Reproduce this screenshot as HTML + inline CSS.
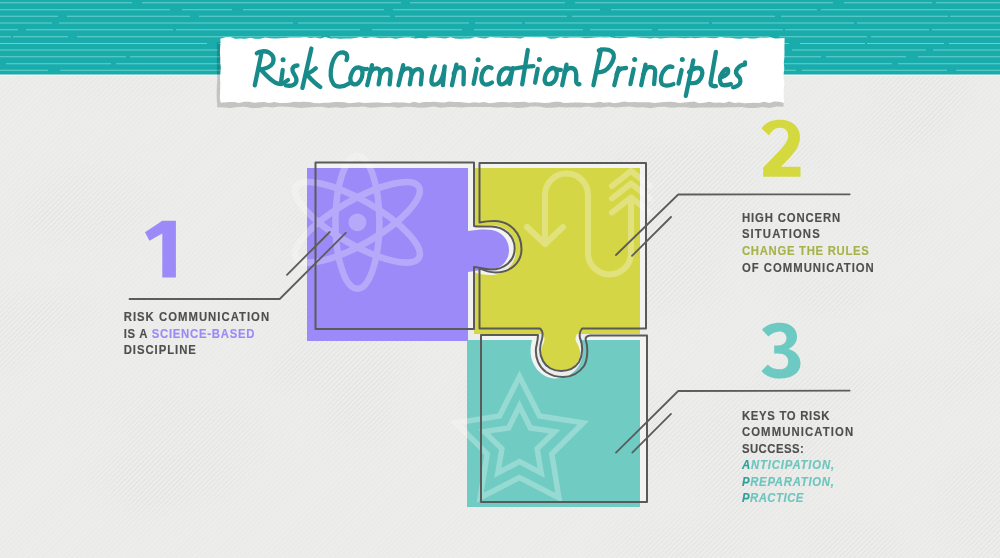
<!DOCTYPE html>
<html><head><meta charset="utf-8">
<style>
html,body{margin:0;padding:0;width:1000px;height:558px;overflow:hidden;background:#ededec;}
svg{display:block;}
text{font-family:"Liberation Sans",sans-serif;}
</style></head>
<body>
<svg width="1000" height="558" viewBox="0 0 1000 558">
<defs>
<pattern id="hatch" width="3.5" height="3.5" patternUnits="userSpaceOnUse" patternTransform="rotate(-45)">
<rect width="3.5" height="1" fill="#d9d9d8"/>
</pattern>
<filter id="blur" x="-20%" y="-20%" width="140%" height="140%"><feGaussianBlur stdDeviation="12"/></filter>
<mask id="patches" maskUnits="userSpaceOnUse" x="0" y="0" width="1000" height="558">
<rect width="1000" height="558" fill="#fff" fill-opacity="0.35"/>
<g filter="url(#blur)">
<ellipse cx="623" cy="433" rx="69" ry="43" fill="#fff" fill-opacity="0.84"/>
<ellipse cx="922" cy="89" rx="51" ry="43" fill="#fff" fill-opacity="0.79"/>
<ellipse cx="901" cy="130" rx="51" ry="22" fill="#fff" fill-opacity="0.73"/>
<ellipse cx="574" cy="81" rx="37" ry="23" fill="#fff" fill-opacity="0.95"/>
<ellipse cx="766" cy="152" rx="69" ry="19" fill="#fff" fill-opacity="0.77"/>
<ellipse cx="127" cy="76" rx="73" ry="21" fill="#fff" fill-opacity="0.53"/>
<ellipse cx="982" cy="496" rx="41" ry="44" fill="#fff" fill-opacity="0.72"/>
<ellipse cx="678" cy="174" rx="77" ry="36" fill="#fff" fill-opacity="0.98"/>
<ellipse cx="894" cy="219" rx="45" ry="20" fill="#fff" fill-opacity="0.49"/>
<ellipse cx="65" cy="221" rx="58" ry="15" fill="#fff" fill-opacity="0.81"/>
<ellipse cx="338" cy="225" rx="70" ry="29" fill="#fff" fill-opacity="0.59"/>
<ellipse cx="481" cy="415" rx="28" ry="44" fill="#fff" fill-opacity="0.41"/>
<ellipse cx="750" cy="483" rx="26" ry="39" fill="#fff" fill-opacity="0.62"/>
<ellipse cx="579" cy="79" rx="28" ry="20" fill="#fff" fill-opacity="0.97"/>
<ellipse cx="197" cy="440" rx="76" ry="43" fill="#fff" fill-opacity="0.61"/>
<ellipse cx="355" cy="328" rx="68" ry="18" fill="#fff" fill-opacity="0.85"/>
<ellipse cx="797" cy="490" rx="27" ry="43" fill="#fff" fill-opacity="0.45"/>
<ellipse cx="341" cy="370" rx="75" ry="25" fill="#fff" fill-opacity="0.95"/>
<ellipse cx="545" cy="226" rx="42" ry="20" fill="#fff" fill-opacity="0.45"/>
<ellipse cx="149" cy="408" rx="80" ry="20" fill="#fff" fill-opacity="0.43"/>
<ellipse cx="987" cy="333" rx="47" ry="22" fill="#fff" fill-opacity="0.76"/>
<ellipse cx="826" cy="295" rx="48" ry="17" fill="#fff" fill-opacity="0.95"/>
<ellipse cx="33" cy="313" rx="71" ry="19" fill="#fff" fill-opacity="0.84"/>
<ellipse cx="950" cy="379" rx="68" ry="18" fill="#fff" fill-opacity="0.66"/>
<ellipse cx="149" cy="483" rx="41" ry="29" fill="#fff" fill-opacity="1.00"/>
<ellipse cx="852" cy="546" rx="50" ry="30" fill="#fff" fill-opacity="0.84"/>
<ellipse cx="479" cy="216" rx="47" ry="19" fill="#fff" fill-opacity="0.63"/>
<ellipse cx="988" cy="539" rx="59" ry="30" fill="#fff" fill-opacity="0.60"/>
<ellipse cx="89" cy="207" rx="68" ry="41" fill="#fff" fill-opacity="0.62"/>
<ellipse cx="786" cy="449" rx="63" ry="35" fill="#fff" fill-opacity="0.86"/>
<ellipse cx="363" cy="415" rx="40" ry="30" fill="#fff" fill-opacity="0.86"/>
<ellipse cx="691" cy="217" rx="77" ry="34" fill="#fff" fill-opacity="0.75"/>
<ellipse cx="12" cy="339" rx="39" ry="35" fill="#fff" fill-opacity="0.68"/>
<ellipse cx="817" cy="388" rx="69" ry="25" fill="#fff" fill-opacity="0.79"/>
<ellipse cx="738" cy="475" rx="44" ry="40" fill="#fff" fill-opacity="0.92"/>
<ellipse cx="688" cy="546" rx="78" ry="31" fill="#fff" fill-opacity="0.72"/>
<ellipse cx="166" cy="479" rx="77" ry="29" fill="#fff" fill-opacity="0.81"/>
<ellipse cx="720" cy="428" rx="34" ry="38" fill="#fff" fill-opacity="0.75"/>
<ellipse cx="666" cy="278" rx="59" ry="38" fill="#fff" fill-opacity="0.78"/>
<ellipse cx="720" cy="88" rx="34" ry="28" fill="#fff" fill-opacity="0.79"/>
</g>
</mask>
</defs>
<!-- background -->
<rect x="0" y="0" width="1000" height="558" fill="#ededec"/>
<rect x="0" y="0" width="1000" height="558" fill="url(#hatch)" mask="url(#patches)" opacity="0.6"/>
<!-- teal band -->
<rect x="0" y="74.5" width="1000" height="1.5" fill="#f4f6f5"/>
<rect x="0" y="0" width="1000" height="74.5" fill="#1aacab"/>
<g stroke="#66d0cd" stroke-width="1.1">
<line x1="0" y1="2.7" x2="1000" y2="2.7" stroke-dasharray="155 10 259 9 155 10 258 11 88 4 245 10 161 12 197 4 64 9 117 4" stroke-dashoffset="23"/>
<line x1="0" y1="9.7" x2="1000" y2="9.7" stroke-dasharray="177 12 50 11 141 9 207 11 206 4 199 2 252 10 56 2 49 5 101 11" stroke-dashoffset="7"/>
<line x1="0" y1="16.3" x2="1000" y2="16.3" stroke-dasharray="239 9 123 9 191 5 172 5 203 6 167 2 209 3 157 12 111 8 181 3" stroke-dashoffset="181"/>
<line x1="0" y1="23.0" x2="1000" y2="23.0" stroke-dasharray="105 7 234 5 171 6 47 3 184 3 142 3 256 6 138 3 44 12 40 5" stroke-dashoffset="53"/>
<line x1="0" y1="29.8" x2="1000" y2="29.8" stroke-dasharray="53 9 136 8 147 3 184 12 90 12 109 7 62 6 125 2 144 3 74 5" stroke-dashoffset="180"/>
<line x1="0" y1="36.8" x2="1000" y2="36.8" stroke-dasharray="65 2 55 9 244 9 85 12 183 5 154 10 88 4 147 12 138 3 141 8" stroke-dashoffset="54"/>
<line x1="0" y1="43.5" x2="1000" y2="43.5" stroke-dasharray="40 6 245 11 117 2 93 4 140 11 204 11 65 2 77 5 153 6 42 11" stroke-dashoffset="84"/>
<line x1="0" y1="50.0" x2="1000" y2="50.0" stroke-dasharray="252 6 138 3 59 3 93 11 202 5 43 11 134 7 199 9 72 11 163 11" stroke-dashoffset="34"/>
<line x1="0" y1="56.8" x2="1000" y2="56.8" stroke-dasharray="138 4 200 4 119 5 249 11 103 5 80 12 181 5 215 8 163 11 60 8" stroke-dashoffset="12"/>
<line x1="0" y1="63.7" x2="1000" y2="63.7" stroke-dasharray="66 3 49 10 105 5 229 8 105 8 250 11 165 6 173 4 224 3 72 5" stroke-dashoffset="122"/>
<line x1="0" y1="70.2" x2="1000" y2="70.2" stroke-dasharray="183 12 258 11 197 3 111 5 92 2 57 6 145 9 103 2 51 4 112 7" stroke-dashoffset="135"/>
</g>
<!-- label -->
<path d="M217.0,42.0 L224.0,42.6 L231.0,42.3 L238.0,42.7 L245.0,42.7 L252.0,41.7 L259.0,41.6 L266.0,43.1 L273.0,42.1 L280.0,42.0 L287.0,43.4 L294.0,42.4 L301.0,43.1 L308.0,42.5 L315.0,42.8 L322.0,41.9 L329.0,42.7 L336.0,43.2 L343.0,42.5 L350.0,42.9 L357.0,42.8 L364.0,41.7 L371.0,43.0 L378.0,42.7 L385.0,42.1 L392.0,41.7 L399.0,43.2 L406.0,42.5 L413.0,42.9 L420.0,43.2 L427.0,42.9 L434.0,43.3 L441.0,42.3 L448.0,43.0 L455.0,42.4 L462.0,43.3 L469.0,43.2 L476.0,41.8 L483.0,41.8 L490.0,42.0 L497.0,43.3 L504.0,42.4 L511.0,42.7 L518.0,42.1 L525.0,42.5 L532.0,42.3 L539.0,42.2 L546.0,42.7 L553.0,42.7 L560.0,43.2 L567.0,42.8 L574.0,43.3 L581.0,43.1 L588.0,43.4 L595.0,42.8 L602.0,41.9 L609.0,43.1 L616.0,43.3 L623.0,43.2 L630.0,42.6 L637.0,42.9 L644.0,42.0 L651.0,43.1 L658.0,42.6 L665.0,42.1 L672.0,41.7 L679.0,43.1 L686.0,43.4 L693.0,41.8 L700.0,43.0 L707.0,42.3 L714.0,41.9 L721.0,42.1 L728.0,43.0 L735.0,43.2 L742.0,41.7 L749.0,42.7 L756.0,41.7 L763.0,42.9 L770.0,42.2 L777.0,43.2 L783.5,42.5 L784.0,42.5 L783.5,49.5 L784.0,56.5 L783.3,63.5 L783.0,70.5 L783.6,77.5 L783.0,84.5 L783.2,91.5 L783.4,98.5 L783.6,105.5 L783.5,107.3 L783.5,106.7 L776.5,106.5 L769.5,108.0 L762.5,107.0 L755.5,108.1 L748.5,108.0 L741.5,107.1 L734.5,107.2 L727.5,107.3 L720.5,107.6 L713.5,107.5 L706.5,107.4 L699.5,107.5 L692.5,108.1 L685.5,107.3 L678.5,107.2 L671.5,107.7 L664.5,106.8 L657.5,106.9 L650.5,108.2 L643.5,107.3 L636.5,107.4 L629.5,106.4 L622.5,107.1 L615.5,107.4 L608.5,106.4 L601.5,107.5 L594.5,107.5 L587.5,106.5 L580.5,107.5 L573.5,107.2 L566.5,107.6 L559.5,107.0 L552.5,107.7 L545.5,107.7 L538.5,106.4 L531.5,106.5 L524.5,107.6 L517.5,108.1 L510.5,106.9 L503.5,107.2 L496.5,107.5 L489.5,107.0 L482.5,107.1 L475.5,107.0 L468.5,107.1 L461.5,107.5 L454.5,106.9 L447.5,107.1 L440.5,107.8 L433.5,106.4 L426.5,107.4 L419.5,107.7 L412.5,107.0 L405.5,106.8 L398.5,107.8 L391.5,106.8 L384.5,106.7 L377.5,107.2 L370.5,107.7 L363.5,106.6 L356.5,107.0 L349.5,107.0 L342.5,107.9 L335.5,107.2 L328.5,107.9 L321.5,106.7 L314.5,107.0 L307.5,107.6 L300.5,108.0 L293.5,107.2 L286.5,106.8 L279.5,106.6 L272.5,107.4 L265.5,106.7 L258.5,107.9 L251.5,107.9 L244.5,106.7 L237.5,106.9 L230.5,107.9 L223.5,107.6 L217.0,107.3 L217.3,107.3 L216.8,100.3 L216.6,93.3 L216.8,86.3 L217.3,79.3 L216.8,72.3 L216.8,65.3 L216.9,58.3 L216.9,51.3 L216.9,44.3 Z" fill="#000" fill-opacity="0.17"/>
<path d="M220.3,38.7 L225.3,37.3 L230.3,37.0 L235.3,38.7 L240.3,38.6 L245.3,38.8 L250.3,37.8 L255.3,38.7 L260.3,38.7 L265.3,37.4 L270.3,38.3 L275.3,38.5 L280.3,38.2 L285.3,37.9 L290.3,37.5 L295.3,37.6 L300.3,37.4 L305.3,37.1 L310.3,38.1 L315.3,37.5 L320.3,38.5 L325.3,37.1 L330.3,38.6 L335.3,38.2 L340.3,38.7 L345.3,38.6 L350.3,38.6 L355.3,38.0 L360.3,37.0 L365.3,38.3 L370.3,37.3 L375.3,37.5 L380.3,38.2 L385.3,37.9 L390.3,37.7 L395.3,38.7 L400.3,38.1 L405.3,37.6 L410.3,37.5 L415.3,38.6 L420.3,37.9 L425.3,38.4 L430.3,37.6 L435.3,37.4 L440.3,38.0 L445.3,38.5 L450.3,37.3 L455.3,38.4 L460.3,38.7 L465.3,38.5 L470.3,38.5 L475.3,37.0 L480.3,38.1 L485.3,38.6 L490.3,37.1 L495.3,37.5 L500.3,37.5 L505.3,37.9 L510.3,37.8 L515.3,37.9 L520.3,38.4 L525.3,37.0 L530.3,37.1 L535.3,37.2 L540.3,37.2 L545.3,37.1 L550.3,38.8 L555.3,38.5 L560.3,37.2 L565.3,37.9 L570.3,37.6 L575.3,37.6 L580.3,37.6 L585.3,38.2 L590.3,38.1 L595.3,37.6 L600.3,37.3 L605.3,37.6 L610.3,37.2 L615.3,38.0 L620.3,38.3 L625.3,37.7 L630.3,37.1 L635.3,37.3 L640.3,37.7 L645.3,38.1 L650.3,38.4 L655.3,37.7 L660.3,38.4 L665.3,38.1 L670.3,37.8 L675.3,37.7 L680.3,37.9 L685.3,38.3 L690.3,37.8 L695.3,38.2 L700.3,37.8 L705.3,37.4 L710.3,38.0 L715.3,38.3 L720.3,37.1 L725.3,37.8 L730.3,37.8 L735.3,38.6 L740.3,38.7 L745.3,37.7 L750.3,38.6 L755.3,38.4 L760.3,37.5 L765.3,37.8 L770.3,37.2 L775.3,38.5 L780.3,38.2 L784.2,37.9 L784.6,37.9 L784.5,42.9 L784.4,47.9 L784.5,52.9 L784.3,57.9 L783.8,62.9 L784.3,67.9 L783.7,72.9 L783.8,77.9 L784.5,82.9 L783.7,87.9 L783.8,92.9 L783.8,97.9 L784.2,102.4 L784.2,103.1 L779.2,101.8 L774.2,101.5 L769.2,103.0 L764.2,101.7 L759.2,103.0 L754.2,102.7 L749.2,103.0 L744.2,103.2 L739.2,102.5 L734.2,102.9 L729.2,101.6 L724.2,102.9 L719.2,102.4 L714.2,102.8 L709.2,101.7 L704.2,102.8 L699.2,103.2 L694.2,101.6 L689.2,102.1 L684.2,102.5 L679.2,103.0 L674.2,101.9 L669.2,101.8 L664.2,101.9 L659.2,102.6 L654.2,102.9 L649.2,102.2 L644.2,102.2 L639.2,102.2 L634.2,102.1 L629.2,102.3 L624.2,101.6 L619.2,102.4 L614.2,103.3 L609.2,102.2 L604.2,102.8 L599.2,101.8 L594.2,102.7 L589.2,102.9 L584.2,102.7 L579.2,102.4 L574.2,102.4 L569.2,102.7 L564.2,103.1 L559.2,101.8 L554.2,101.7 L549.2,102.8 L544.2,103.1 L539.2,102.4 L534.2,102.3 L529.2,102.8 L524.2,101.8 L519.2,102.0 L514.2,101.9 L509.2,102.6 L504.2,102.1 L499.2,101.9 L494.2,102.7 L489.2,103.2 L484.2,102.0 L479.2,102.8 L474.2,102.2 L469.2,103.0 L464.2,102.6 L459.2,102.0 L454.2,101.9 L449.2,101.5 L444.2,102.4 L439.2,102.2 L434.2,101.8 L429.2,102.1 L424.2,102.1 L419.2,102.9 L414.2,101.8 L409.2,103.3 L404.2,102.4 L399.2,102.6 L394.2,102.3 L389.2,103.0 L384.2,103.0 L379.2,102.5 L374.2,102.4 L369.2,102.8 L364.2,103.0 L359.2,102.2 L354.2,102.8 L349.2,103.2 L344.2,102.3 L339.2,101.9 L334.2,101.9 L329.2,102.8 L324.2,102.7 L319.2,103.2 L314.2,103.0 L309.2,101.9 L304.2,101.8 L299.2,102.0 L294.2,101.8 L289.2,102.8 L284.2,103.0 L279.2,103.1 L274.2,102.0 L269.2,103.1 L264.2,102.1 L259.2,102.3 L254.2,102.8 L249.2,101.7 L244.2,101.7 L239.2,103.0 L234.2,102.0 L229.2,102.1 L224.2,102.5 L220.3,102.4 L220.5,102.4 L219.8,97.4 L220.1,92.4 L220.2,87.4 L220.3,82.4 L220.0,77.4 L220.4,72.4 L220.8,67.4 L220.2,62.4 L220.3,57.4 L219.9,52.4 L220.1,47.4 L220.5,42.4 Z" fill="#fff"/>
<!-- title -->
<g fill="none" stroke="#178a89" stroke-width="4.3" stroke-linecap="round" stroke-linejoin="round">
<path d="M256.9,53.3 C259,51 265,50.5 269,52.5 C273,55 274.5,59 272.6,63.5 C270.5,67 265,69 259.5,69.5"/>
<path d="M261.3,53.9 L254.8,85.3"/>
<path d="M260.5,69.2 C264,73 269,79 275,82.5 C278,84 281,84.5 283,83.5 C285,82 286.5,81 288,80"/>
<path d="M282.7,70 L280.9,83.4"/>
<path d="M297.5,65.5 C294,65.5 292,67.5 292.5,70.5 C293,74 296.5,76 296.5,80 C296.5,84.5 292,86.5 286,85.5"/>
<path d="M311.4,48.5 L302.4,87.9"/>
<path d="M315.8,68.2 C313,71 309,73 306.5,74"/>
<path d="M306.9,74.5 C310,78 314,83 320.3,87"/>
<path d="M346.5,60.1 C348,57 347.4,53 343,52.5 C338,52 334,57 332,64 C330,72 330.5,80 333.5,84 C336,87.5 343,87.5 349,83.5"/>
<path d="M358.2,67.3 C362,67.5 363.5,72 362,77 C360.5,82 357,85 354,84.3 C350.5,83.5 349.5,79 351,75 C352.5,70.5 355,67.3 358.2,67.3 C361,68 364,69.5 367,69"/>
<path d="M372.0,65.2 L367.2,85.2"/>
<path d="M369.6,74 C371.5,70 374.0,68.2 377.0,68.4 C380.5,68.7 380.5,72 380.0,76 L378.6,84.4"/>
<path d="M380.8,74 C382.5,70.5 384.5,69 387.0,69.2 C390.5,69.5 391.0,72 390.5,76 L389.6,84.4"/>
<path d="M403.2,65.2 L398.4,85.2"/>
<path d="M400.8,74 C402.7,70 405.2,68.2 408.2,68.4 C411.7,68.7 411.7,72 411.2,76 L409.8,84.4"/>
<path d="M412.0,74 C413.7,70.5 415.7,69 418.2,69.2 C421.7,69.5 422.2,72 421.7,76 L420.8,84.4"/>
<path d="M434.9,66.4 C433,72 431,78 431.5,82 C432,85.5 436,85.5 439,82.5 C442,79.5 444,72 444.7,66.4 L442.9,85.2"/>
<path d="M456.4,64.6 L451.9,85.2"/>
<path d="M453.7,73.6 C455.5,69.5 457.5,67.3 460,67.3 C463.5,67.3 464,70 463.8,74 L463.5,84.3"/>
<path d="M476.6,68.8 L473.6,83.9"/>
<path d="M491.6,68.1 C490,66.5 486,66.5 483.5,70.5 C481,74.5 480.5,81 483.3,83.5 C485.5,85.5 489,84.5 492,82.5"/>
<path d="M509.7,68.8 C507,67.5 503,68 500.5,72 C498.5,76 498,82 500,83.9 C502,85.5 506,83 508,80 C510,77 511.5,73 512.7,68.1 L509.7,83.9"/>
<path d="M527.8,50 L522.2,84.4"/>
<path d="M514.5,68.5 C520,67.5 527,66.5 533.4,66.2"/>
<path d="M537.7,68.9 L535.1,82.7"/>
<path d="M553.2,68 C556,68.5 557.5,72 556.5,76.5 C555.5,81 552,84.5 548.5,84.2 C545,84 544,80.5 545,77 C546,72.5 549.5,68 553.2,68 C555,69 558,70 560.9,69.8"/>
<path d="M566.5,64.7 L562.2,85.2"/>
<path d="M564.4,73.3 C566,70 568,68 570.8,68 C574.5,68 576,70.5 576.2,74 L576.2,82 C576.5,84 578,84.5 579.4,84.1"/>
<path d="M600.9,49.7 L593.4,85.2"/>
<path d="M598.8,50.5 C601,49.5 605,49 608.4,49.9 C612.5,51 614.5,54 613.8,57.5 C613,62 609,68 605.2,70.5 C602.5,72 600,72.3 597.7,72.3"/>
<path d="M618.6,68 L614.3,85.2"/>
<path d="M616.5,74.4 C618,71 620,68.8 622,68.5 C623.5,68.2 625,68 626.1,68"/>
<path d="M633.7,69 L630.4,84.1"/>
<path d="M645.5,64.7 L641.2,85.2"/>
<path d="M643.3,74.4 C645,70 647.5,67 649.8,66.9 C653.5,66.9 655.5,69 655.2,72 L654.1,84.1"/>
<path d="M672.4,66.9 C670,66 667,67 664.8,69.5 C661.5,73 660,79 661.5,83 C663,86.5 669,86 673.4,84.1"/>
<path d="M681.6,70 L678.5,83.6"/>
<path d="M693.3,60.4 L685.8,95.9"/>
<path d="M689,72.3 C691.5,69.5 695,67.8 698.7,68 C702,68.5 703,72 701.9,75.5 C700.5,80 697.5,83 693.5,83.2 C692,83.3 690.5,83 690,83"/>
<path d="M715.9,51.8 L710.5,83 C710.8,85.5 713,86.5 715.9,86.2"/>
<path d="M720.2,76.6 C722.5,72 725,69 726.6,69 C728.5,69 728.5,72 727.7,73.3 C726,75.5 723,77 720.2,77.6 C719.5,81 720.5,85 723.4,85.2 C726,85.4 728.5,84.8 730.9,84.1"/>
<path d="M745,62.5 L744.9,64.7 C742,64.8 739.5,65.8 737.5,68.5 C735,71.5 736,74.5 739,77 C741.5,79.5 740.5,84 738.4,85.2 C736.5,86.5 734.5,87.3 733.1,87.3"/>
</g>
<g fill="#178a89">
<circle cx="283.1" cy="59.8" r="2.5"/>
<circle cx="478.1" cy="59.8" r="2.5"/>
<circle cx="539.4" cy="59.5" r="2.5"/>
<circle cx="634.7" cy="59.4" r="2.5"/>
<circle cx="682.3" cy="59.6" r="2.5"/>
</g>

<!-- halo -->
<g fill="#f3f3f1" stroke="#f3f3f1" stroke-width="1" stroke-linejoin="round">
<path d="M315.5,162.5 H474 V226 C477,227 482,226.5 491,226.5 C504,226.5 514.7,236 514.7,248.5 C514.7,261 504,269.5 491,269.5 C484,269.5 478,267 474,267 V329 H315.5 Z"/>
<path d="M479.5,163 H646 V328.5 H582 C580,331 579,334 580,338 C583,345 583,355 579,362 C575,368 568,371 561,371 C553,371 546,367 543,361 C539,354 540,345 542,339 C543,335 543,331 540,328.5 H479.5 V268 C483,270 490,272.5 496,272.5 C510,272.5 521.5,263 521.5,249 C521.5,233 510,221 494,221 C487,221 482,222 479.5,222.5 Z"/>
<path d="M481,335 H538 C538,340 537,343 536,348 C535,358 539,367 546,372 C552,376 557,377 563,377 C571,377 579,373 584,366 C588,359 588,347 586,341 C585,338 586,336 590,335.6 H647 V502 H481 Z"/>
</g>
<!-- puzzle fills -->
<path d="M307,168 H468 V231 C476,229.5 486,229 492,230 C502,232 509,240 509,250 C509,261 501,269 490,269.5 C482,270 474,271 468,272 V341 H307 Z" fill="#9c8af8"/>
<path d="M474,168 H640 V334 H577 C575,338 575,340 577,343 C581,350 581,356 578,361 C574,368 567,370.5 561,370.5 C554,370.5 547,368 544,362 C541,356 541,349 543,344 C545,340 545,337 543,334 H474 V272 C478,274 484,275 491,275 C505,275 516,264 516,250 C516,235 505,225 491,225 C484,225 478,226 474,227 Z" fill="#d5d645"/>
<path d="M467,340 H532 C531,345 530,350 531,356 C533,368 543,378.5 556,378.5 C569,378.5 579,370 582,358 C583,352 582,346 580,340 H640 V507 H467 Z" fill="#70cbc3"/>

<!-- icons -->
<g opacity="0.27">
<g fill="none" stroke="#ffffff" stroke-width="6.5">
<ellipse cx="357.4" cy="222.3" rx="66.4" ry="22" transform="rotate(90 357.4 222.3)"/>
<ellipse cx="357.4" cy="222.3" rx="71" ry="22" transform="rotate(30 357.4 222.3)"/>
<ellipse cx="357.4" cy="222.3" rx="71" ry="22" transform="rotate(-30 357.4 222.3)"/>
</g>
<circle cx="357.4" cy="222.3" r="8.9" fill="#ffffff"/>
</g>
<g opacity="0.3" fill="none" stroke="#ffffff" stroke-width="6" stroke-linecap="round" stroke-linejoin="round">
<path d="M545,243 V195 A21.5,21.5 0 0 1 588,195 V253 A21.5,21.5 0 0 0 631,253 V199"/>
<path d="M527,227 L545,244 L563,227"/>
<path d="M612,212.5 L631,197.5 L650,212.5"/>
<path d="M612,198.5 L631,183.5 L650,198.5"/>
<path d="M612,186 L631,171 L650,186"/>
</g>
<g opacity="0.27" fill="none" stroke="#ffffff" stroke-width="5.5" stroke-linejoin="miter">
<path d="M519.5,376.5 L539.5,416.0 L583.2,422.8 L551.8,454.0 L558.9,497.7 L519.5,477.5 L480.1,497.7 L487.2,454.0 L455.8,422.8 L499.5,416.0 Z"/>
<path d="M519.5,406.0 L530.4,428.0 L554.7,431.6 L537.1,448.7 L541.2,472.9 L519.5,461.5 L497.8,472.9 L501.9,448.7 L484.3,431.6 L508.6,428.0 Z"/>
</g>

<!-- outlines -->
<g fill="none" stroke="#5a5a5a" stroke-width="2" stroke-linejoin="round">
<path d="M315.5,162.5 H474 V226 C477,227 482,226.5 491,226.5 C504,226.5 514.7,236 514.7,248.5 C514.7,261 504,269.5 491,269.5 C484,269.5 478,267 474,267 V329 H315.5 Z"/>
<path d="M479.5,163 H646 V328.5 H582 C580,331 579,334 580,338 C583,345 583,355 579,362 C575,368 568,371 561,371 C553,371 546,367 543,361 C539,354 540,345 542,339 C543,335 543,331 540,328.5 H479.5 V268 C483,270 490,272.5 496,272.5 C510,272.5 521.5,263 521.5,249 C521.5,233 510,221 494,221 C487,221 482,222 479.5,222.5 Z"/>
<path d="M481,335 H538 C538,340 537,343 536,348 C535,358 539,367 546,372 C552,376 557,377 563,377 C571,377 579,373 584,366 C588,359 588,347 586,341 C585,338 586,336 590,335.6 H647 V502 H481 Z"/>
</g>

<!-- leader lines -->
<g fill="none" stroke="#5c5c5c" stroke-width="1.8" stroke-linecap="round" stroke-linejoin="round">
<polyline points="129.5,299 279.7,299 345.8,232.9"/>
<line x1="287" y1="274.8" x2="329.7" y2="232"/>
<polyline points="849.7,194.3 678.2,194.5 616,255"/>
<line x1="671" y1="217" x2="632" y2="255.8"/>
<polyline points="849.7,390.6 678.2,391 616,452.6"/>
<line x1="671" y1="413.9" x2="632.3" y2="452.6"/>
</g>

<!-- numbers -->
<path d="M162.3,220.8 H175.9 V277.4 H162.3 V233.5 L149.4,240.8 L145,232.2 Z" fill="#9c8af8"/>
<path d="M761.5,128.5 C765,122.5 772,119.7 780.5,119.7 C792,119.7 800,126.5 800,137 C800,145 796,151 789,158.5 L781,166.8 H800.5 V176.8 H763.2 V167.5 L780.5,149.5 C786,143.5 788.2,139.5 788.2,136 C788.2,131 785,127.8 780,127.8 C775.5,127.8 772,130.5 769,135.5 Z" fill="#d4d940"/>
<path d="M762,329.7 C766,325 772,322.7 780,322.7 C790.5,322.7 797,328.5 797,336.5 C797,342.5 793.5,346.5 788.5,349 C795.5,351 800.5,356 800.5,363.5 C800.5,373 792,378.6 780,378.6 C771.5,378.6 765,375.5 761.4,371 L767.8,364.6 C771,368 775,369.3 779.5,369.3 C785,369.3 788.2,366.5 788.2,361.5 C788.2,356.5 784.5,353.5 778.5,353.5 H774.2 V345.4 H778 C783,345.4 786.5,342.5 786.5,338 C786.5,334 783.5,331.4 779.5,331.4 C775,331.4 771.5,333.5 768.4,336.6 Z" fill="#6dcac2"/>

<!-- text blocks -->
<g font-size="13.2" font-weight="bold" fill="#4f4f4f" stroke="#4f4f4f" stroke-width="0.15" opacity="0.999">
<text transform="translate(123.7 320.8) scale(0.86 1)" textLength="169.1" lengthAdjust="spacing">RISK COMMUNICATION</text>
<text transform="translate(123.7 337.5) scale(0.86 1)" textLength="152.0" lengthAdjust="spacing">IS A <tspan fill="#9c8af8" stroke="#9c8af8">SCIENCE-BASED</tspan></text>
<text transform="translate(123.7 354.0) scale(0.86 1)" textLength="84.0" lengthAdjust="spacing">DISCIPLINE</text>
<text transform="translate(741.9 221.9) scale(0.86 1)" textLength="114.3" lengthAdjust="spacing">HIGH CONCERN</text>
<text transform="translate(741.9 238.4) scale(0.86 1)" textLength="90.5" lengthAdjust="spacing">SITUATIONS</text>
<text transform="translate(741.9 255.0) scale(0.86 1)" textLength="147.6" lengthAdjust="spacing"><tspan fill="#a6b24a" stroke="#a6b24a">CHANGE THE RULES</tspan></text>
<text transform="translate(741.9 271.5) scale(0.86 1)" textLength="153.4" lengthAdjust="spacing">OF COMMUNICATION</text>
<text transform="translate(741.9 419.7) scale(0.86 1)" textLength="101.7" lengthAdjust="spacing">KEYS TO RISK</text>
<text transform="translate(741.9 436.2) scale(0.86 1)" textLength="129.3" lengthAdjust="spacing">COMMUNICATION</text>
<text transform="translate(741.9 452.7) scale(0.86 1)" textLength="72.0" lengthAdjust="spacing">SUCCESS:</text>
<text transform="translate(741.9 469.2) scale(0.86 1)" textLength="107.4" lengthAdjust="spacing"><tspan font-style="italic" fill="#2e9f96" stroke="#2e9f96">A</tspan><tspan font-style="italic" fill="#6cc6bd" stroke="#6cc6bd">NTICIPATION,</tspan></text>
<text transform="translate(741.9 485.7) scale(0.86 1)" textLength="107.0" lengthAdjust="spacing"><tspan font-style="italic" fill="#2e9f96" stroke="#2e9f96">P</tspan><tspan font-style="italic" fill="#6cc6bd" stroke="#6cc6bd">REPARATION,</tspan></text>
<text transform="translate(741.9 502.2) scale(0.86 1)" textLength="71.5" lengthAdjust="spacing"><tspan font-style="italic" fill="#2e9f96" stroke="#2e9f96">P</tspan><tspan font-style="italic" fill="#6cc6bd" stroke="#6cc6bd">RACTICE</tspan></text>
</g>
</svg>
</body></html>
